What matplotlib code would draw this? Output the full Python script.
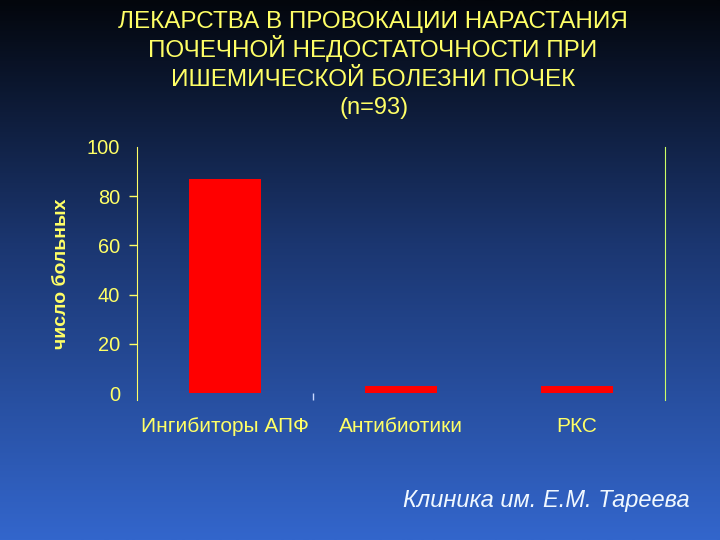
import numpy as np
import matplotlib
matplotlib.use("Agg")
import matplotlib.pyplot as plt
from matplotlib.colors import LinearSegmentedColormap

plt.rcParams['font.family'] = ['Liberation Sans', 'DejaVu Sans']

# данные
categories = ['Ингибиторы АПФ', 'Антибиотики', 'РКС']
patients = [87, 3, 3]
yticks = [0, 20, 40, 60, 80, 100]

title_lines = ['ЛЕКАРСТВА В ПРОВОКАЦИИ НАРАСТАНИЯ',
               'ПОЧЕЧНОЙ НЕДОСТАТОЧНОСТИ ПРИ',
               'ИШЕМИЧЕСКОЙ БОЛЕЗНИ ПОЧЕК']

yellow = '#ffff66'

fig = plt.figure(figsize=(7.2, 5.4), dpi=100)

# фон с градиентом
bg = fig.add_axes([0, 0, 1, 1], zorder=-1)
cmap = LinearSegmentedColormap.from_list(
    'bg', [(0.0, '#03060c'), (0.45, '#1b3670'), (1.0, '#3366cc')])
grad = np.linspace(0, 1, 256).reshape(-1, 1)
bg.imshow(grad, cmap=cmap, aspect='auto', extent=[0, 1, 1, 0])
bg.set_axis_off()

ax = fig.add_axes([0.1903, 0.2593, 0.7333, 0.4685])
ax.set_facecolor('none')
x = np.arange(len(categories))
ax.bar(x, patients, width=0.41, color='#ff0000', zorder=3)

ax.set_xlim(-0.5, 2.5)
ax.set_ylim(-2.8, 100)
ax.set_yticks(yticks)
ax.set_xticks(x)
ax.set_xticklabels(categories, fontsize=15, color=yellow)
ax.tick_params(axis='x', length=0, pad=12)
ax.tick_params(axis='y', colors=yellow, labelsize=14.4, length=6, width=1, pad=6)
ax.set_xticks([0.5], minor=True)
ax.tick_params(axis='x', which='minor', length=5, direction='in', color='#c8d8ff', width=1)
yt = ax.yaxis.get_major_ticks()
yt[0].tick1line.set_visible(False)
yt[-1].tick1line.set_visible(False)

ax.spines['top'].set_visible(False)
ax.spines['bottom'].set_visible(False)
ax.spines['left'].set_color(yellow)
ax.spines['right'].set_color('#ccff66')
ax.set_ylabel('число больных', fontsize=14, fontweight='bold', color=yellow, labelpad=12)

title_y = [0.948, 0.894, 0.840]
for line, yy in zip(title_lines, title_y):
    fig.text(0.518, yy, line, ha='center', va='baseline', fontsize=17.5, color=yellow)
fig.text(0.519, 0.789, '(n=93)', ha='center', va='baseline', fontsize=17, color=yellow)

fig.text(0.958, 0.074, 'Клиника им. Е.М. Тареева', ha='right', va='center',
         fontsize=17, style='italic', color='#f0f8ff')

fig.savefig('out.png', dpi=100)
